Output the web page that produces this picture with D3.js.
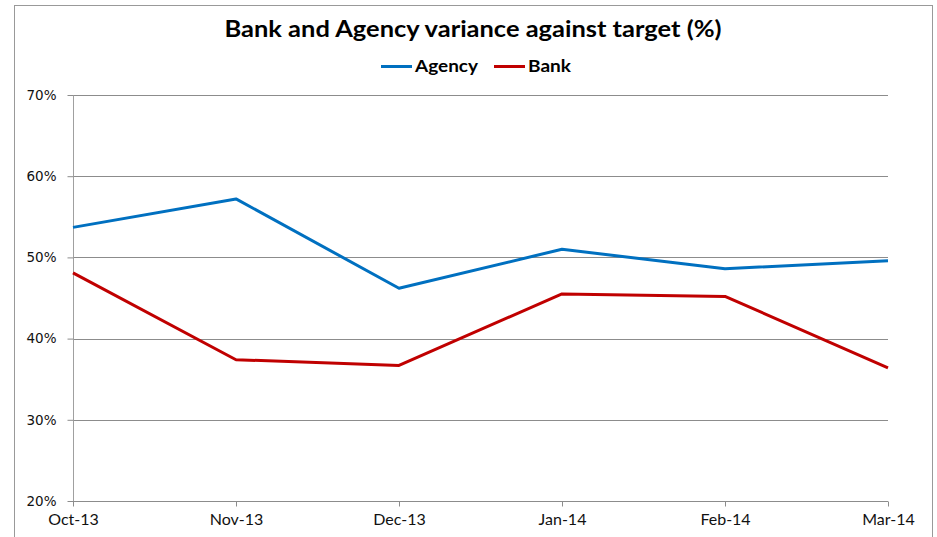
<!DOCTYPE html>
<html><head><meta charset="utf-8">
<script src="https://cdn.jsdelivr.net/npm/d3@7/dist/d3.min.js"></script>
<style>body{margin:0;background:#fff}svg{display:block}</style>
</head><body><svg id="c" width="937" height="537"></svg>
<script>
const categories = ["Oct-13","Nov-13","Dec-13","Jan-14","Feb-14","Mar-14"];
const agency = [53.7, 57.2, 46.2, 51.0, 48.6, 49.6];
const bank = [48.1, 37.4, 36.7, 45.5, 45.2, 36.4];
const yTicks = [20, 30, 40, 50, 60, 70];
const seriesNames = ["Agency", "Bank"];
const colors = ["#0070C0", "#C00000"];

const svg = d3.select("#c");
const m = {l:73, r:888, t:95, b:501};
svg.append("rect").attr("x",14.5).attr("y",5.5).attr("width",918).attr("height",540)
  .attr("fill","#fff").attr("stroke","#999").attr("stroke-width",1);

const x = d3.scalePoint().domain(categories).range([m.l, m.r]);
const y = d3.scaleLinear().domain([20,70]).range([m.b, m.t]);

svg.append("g").selectAll("line").data(yTicks.filter(t=>t>20)).join("line")
  .attr("x1",m.l).attr("x2",m.r).attr("y1",d=>Math.round(y(d))+0.5).attr("y2",d=>Math.round(y(d))+0.5)
  .attr("stroke","#8c8c8c").attr("stroke-width",1);

const ya = svg.append("g").attr("transform",`translate(${m.l+0.5},0)`)
  .call(d3.axisLeft(y).tickValues(yTicks).tickFormat(d=>d+"%").tickSize(6).tickPadding(11));
ya.select(".domain").attr("stroke","#a0a0a0").attr("d",`M0,${m.t}V${m.b}`);
ya.selectAll(".tick line").attr("stroke","#8c8c8c");
ya.selectAll("text").style("font-family","'DejaVu Sans', Verdana, sans-serif").style("font-size","13.5px").attr("fill","#111");

const xa = svg.append("g").attr("transform",`translate(0,${m.b+0.5})`)
  .call(d3.axisBottom(x).tickSize(5).tickPadding(7));
xa.select(".domain").attr("stroke","#8c8c8c").attr("d",`M${m.l},0H${m.r}`);
xa.selectAll(".tick line").attr("stroke","#8c8c8c");
xa.selectAll("text").style("font-family","Lato, 'Open Sans', sans-serif").style("font-size","16px").attr("fill","#111");

const line = d3.line().x((d,i)=>x(categories[i])).y(d=>y(d));
[agency, bank].forEach((s,i)=>{
  svg.append("path").datum(s).attr("d",line).attr("fill","none")
    .attr("stroke",colors[i]).attr("stroke-width",3).attr("stroke-linejoin","round");
});

svg.append("text").attr("x",473).attr("y",37).attr("text-anchor","middle")
  .style("font-family","Lato, Roboto, sans-serif").style("font-weight","bold")
  .style("font-size","22px").attr("fill","#000").attr("textLength",497).attr("lengthAdjust","spacingAndGlyphs")
  .text("Bank and Agency variance against target (%)");

const lg = [{x:381,tx:415,w:63},{x:494,tx:528,w:43}];
seriesNames.forEach((n,i)=>{
  svg.append("line").attr("x1",lg[i].x).attr("x2",lg[i].x+31).attr("y1",66.5).attr("y2",66.5)
    .attr("stroke",colors[i]).attr("stroke-width",3);
  svg.append("text").attr("x",lg[i].tx).attr("y",72).style("font-family","Lato, Roboto, sans-serif")
    .style("font-weight","bold").style("font-size","17px").attr("textLength",lg[i].w).attr("lengthAdjust","spacingAndGlyphs").text(n);
});
</script></body></html>
